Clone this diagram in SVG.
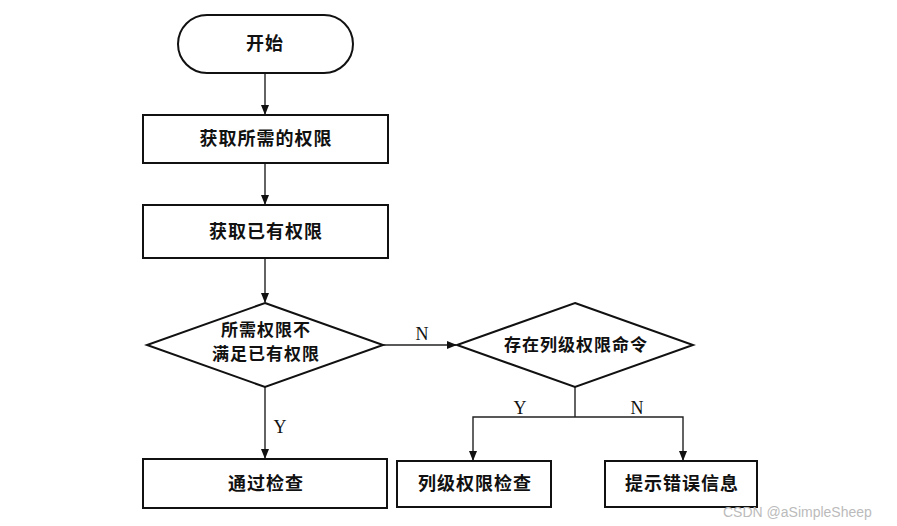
<svg xmlns="http://www.w3.org/2000/svg" width="897" height="526" viewBox="0 0 897 526">
<style>
.shape{fill:#fff;stroke:#111;stroke-width:2}
.t{font-family:"Noto Sans CJK SC","Liberation Sans",sans-serif;font-weight:bold;font-size:18px;fill:#111;text-anchor:middle;letter-spacing:1px}
.d{font-size:17px}
.lbl{font-family:"Liberation Serif",serif;font-size:18px;fill:#111;text-anchor:middle}
.c{fill:none;stroke:#222;stroke-width:1.4}
.wm{font-family:"Liberation Sans",sans-serif;font-size:14px;fill:#bbb}
</style>
<defs>
<marker id="ah" markerWidth="10" markerHeight="8" refX="9" refY="4" orient="auto" markerUnits="userSpaceOnUse">
<path d="M0,0 L10,4 L0,8 Z" fill="#111"/>
</marker>
</defs>
<rect width="897" height="526" fill="#fff"/>
<g id="connectors">
<line class="c" x1="265" y1="73" x2="265" y2="114" marker-end="url(#ah)"/>
<line class="c" x1="265" y1="163" x2="265" y2="204" marker-end="url(#ah)"/>
<line class="c" x1="265" y1="258" x2="265" y2="302" marker-end="url(#ah)"/>
<line class="c" x1="383" y1="345" x2="456" y2="345" marker-end="url(#ah)"/>
<line class="c" x1="265" y1="387" x2="265" y2="458" marker-end="url(#ah)"/>
<polyline class="c" points="575,387 575,417"/>
<polyline class="c" points="575,417 473,417 473,460" marker-end="url(#ah)"/>
<polyline class="c" points="575,417 683,417 683,460" marker-end="url(#ah)"/>
<text class="lbl" x="422" y="340">N</text>
<text class="lbl" x="280" y="433" font-family="Liberation Sans">Y</text>
<text class="lbl" x="520" y="414">Y</text>
<text class="lbl" x="637" y="414">N</text>
</g>
<g id="start">
<rect class="shape" x="178" y="15" width="175" height="58" rx="29" ry="29"/>
<text class="t" x="265" y="50">开始</text>
</g>
<g id="get-required">
<rect class="shape" x="143" y="115" width="245" height="48"/>
<text class="t" x="266" y="145">获取所需的权限</text>
</g>
<g id="get-existing">
<rect class="shape" x="143" y="205" width="245" height="53"/>
<text class="t" x="266" y="238">获取已有权限</text>
</g>
<g id="decision1">
<polygon class="shape" points="265,303 383,345 265,387 147,345"/>
<text class="t d" x="266" y="336">所需权限不</text>
<text class="t d" x="266" y="360">满足已有权限</text>
</g>
<g id="decision2">
<polygon class="shape" points="575,303 693,345 575,387 457,345"/>
<text class="t d" x="576" y="351">存在列级权限命令</text>
</g>
<g id="pass">
<rect class="shape" x="143" y="459" width="244" height="49"/>
<text class="t" x="266" y="490">通过检查</text>
</g>
<g id="column-check">
<rect class="shape" x="397" y="461" width="154" height="46"/>
<text class="t" x="475" y="490">列级权限检查</text>
</g>
<g id="error">
<rect class="shape" x="605" y="461" width="152" height="46"/>
<text class="t" x="682" y="490">提示错误信息</text>
</g>
<text class="wm" x="723" y="517">CSDN @aSimpleSheep</text>
</svg>
